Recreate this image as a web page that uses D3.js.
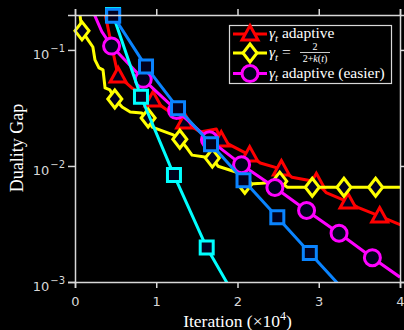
<!DOCTYPE html>
<html>
<head>
<meta charset="utf-8">
<script src="https://cdn.jsdelivr.net/npm/d3@7"></script>
<style>
  html, body { margin: 0; padding: 0; background: #000; }
  svg { display: block; }
</style>
</head>
<body>
<svg id="chart"></svg>
<script>
// ticks
const xTicks = [0, 1, 2, 3, 4];
const yTicks = [1e-3, 1e-2, 1e-1];
const yExps = ["\u22123", "\u22122", "\u22121"];

// gamma_t adaptive (red, triangles)
const redIter = [0.36, 0.53, 0.70, 0.96, 1.17, 1.35, 1.54, 1.74, 1.80, 1.93, 2.15, 2.28, 2.54, 2.67, 2.97, 3.09, 3.36, 3.48, 3.75, 4.01];
const redGap = [0.22, 0.0597, 0.047, 0.037, 0.029, 0.0239, 0.0196, 0.0208, 0.0167, 0.0149, 0.0124, 0.0106, 0.0094, 0.0080, 0.0073, 0.0059, 0.0049, 0.0044, 0.0037, 0.0031];
const redMarks = [1, 3, 5, 8, 10, 12, 14, 16, 18];

// gamma_t = 2/(2+k(t)) (yellow, diamonds)
const yellowIter = [0.05, 0.086, 0.16, 0.22, 0.246, 0.295, 0.345, 0.37, 0.43, 0.49, 0.58, 0.68, 0.82, 0.90, 0.95, 1.21, 1.29, 1.38, 1.44, 1.62, 1.69, 1.76, 1.99, 2.09, 2.30, 2.52, 2.61, 2.92, 3.31, 3.70, 4.01];
const yellowGap = [0.231, 0.146, 0.122, 0.106, 0.082, 0.070, 0.0672, 0.047, 0.0452, 0.0378, 0.0322, 0.0292, 0.0286, 0.0259, 0.0216, 0.0185, 0.0170, 0.0142, 0.0124, 0.0119, 0.0117, 0.00995, 0.00883, 0.00696, 0.0071, 0.0074, 0.00656, 0.00656, 0.00656, 0.00656, 0.00656];
const yellowMarks = [1, 9, 13, 16, 20, 23, 25, 27, 28, 29];

// gamma_t adaptive (easier) (magenta, circles)
const magIter = [0.185, 0.33, 0.45, 0.84, 1.25, 1.655, 2.05, 2.46, 2.85, 3.25, 3.66, 4.0];
const magGap = [0.245, 0.144, 0.108, 0.0558, 0.0301, 0.0168, 0.01026, 0.00652, 0.00413, 0.00263, 0.00162, 0.0011];
const magMarks = [2, 3, 4, 5, 6, 7, 8, 9, 10];

// unlabelled runs (cyan and blue, squares)
const cyanIter = [0.468, 0.812, 1.218, 1.621, 2.03];
const cyanGap = [0.2, 0.0395, 0.00834, 0.00198, 0.00063];
const cyanMarks = [0, 1, 2, 3];

const blueIter = [0.47, 0.874, 1.268, 1.674, 2.074, 2.49, 2.89, 3.29];
const blueGap = [0.197, 0.0718, 0.0314, 0.0154, 0.00754, 0.00361, 0.00178, 0.00088];
const blueMarks = [0, 1, 2, 3, 4, 5, 6];

const legendLabels = ["adaptive", "frac", "adaptive (easier)"];

const width = 404, height = 330;
const m = { left: 75, right: 400, top: 15, bottom: 282 };
const axisColor = "#d8d8d8";
const markFill = "#00001e";
const serif = "'Liberation Serif', 'Times New Roman', serif";
const sans = "'DejaVu Sans', sans-serif";

const svg = d3.select("#chart").attr("width", width).attr("height", height);
svg.append("rect").attr("width", width).attr("height", height).attr("fill", "#000");

const x = d3.scaleLinear().domain([0, 4]).range([m.left, m.right]);
const y = d3.scaleLog().domain([1e-3, 0.2]).range([m.bottom, m.top]);

svg.append("defs").append("clipPath").attr("id", "plot")
  .append("rect").attr("x", m.left).attr("y", m.top)
  .attr("width", m.right - m.left).attr("height", m.bottom - m.top);

// marker shapes
const shapes = {
  triangle: "M0,-8.5L8,6L-8,6Z",
  diamond: "M0,-9L7,0L0,9L-7,0Z",
  square: "M-6.5,-6.5H6.5V6.5H-6.5Z",
  circle: d3.arc()({ innerRadius: 0, outerRadius: 8, startAngle: 0, endAngle: 2 * Math.PI })
};

const series = [
  { iter: redIter, gap: redGap, marks: redMarks, color: "#ff0000", shape: "triangle" },
  { iter: yellowIter, gap: yellowGap, marks: yellowMarks, color: "#ffff00", shape: "diamond" },
  { iter: magIter, gap: magGap, marks: magMarks, color: "#ff00ff", shape: "circle" },
  { iter: cyanIter, gap: cyanGap, marks: cyanMarks, color: "#00ffff", shape: "square" },
  { iter: blueIter, gap: blueGap, marks: blueMarks, color: "#0a84ff", shape: "square" }
];

const line = d3.line().x(d => x(d[0])).y(d => y(d[1]));

series.forEach(s => {
  const pts = s.iter.map((v, i) => [v, s.gap[i]]);
  svg.append("path")
    .attr("clip-path", "url(#plot)")
    .attr("d", line(pts))
    .attr("fill", "none")
    .attr("stroke", s.color)
    .attr("stroke-width", 3)
    .attr("stroke-linejoin", "round");

  svg.append("g").selectAll("path")
    .data(s.marks.map(i => pts[i]))
    .enter()
    .append("path")
    .attr("transform", d => `translate(${x(d[0])},${y(d[1])})`)
    .attr("d", shapes[s.shape])
    .attr("fill", markFill)
    .attr("stroke", s.color)
    .attr("stroke-width", 3);
});

// axes box
const xAxisB = d3.axisBottom(x).tickValues(xTicks).tickSize(6).tickFormat(d3.format("d"));
const xAxisT = d3.axisTop(x).tickValues(xTicks).tickSize(6).tickFormat("");
const yAxisL = d3.axisLeft(y).tickValues(yTicks).tickSize(7).tickFormat("");
const yAxisR = d3.axisRight(y).tickValues(yTicks).tickSize(5).tickFormat("");

const gB = svg.append("g").attr("transform", `translate(0,${m.bottom})`).call(xAxisB);
svg.append("g").attr("transform", `translate(0,${m.top})`).call(xAxisT);
const gL = svg.append("g").attr("transform", `translate(${m.left},0)`).call(yAxisL);
svg.append("g").attr("transform", `translate(${m.right},0)`).call(yAxisR);

svg.selectAll(".domain").attr("stroke", axisColor).attr("stroke-width", 1.5);
svg.selectAll(".tick line").attr("stroke", axisColor).attr("stroke-width", 1.5);

gB.selectAll(".tick text")
  .attr("fill", axisColor)
  .attr("font-family", sans)
  .attr("font-size", 13)
  .attr("y", 15);

// y tick labels as 10^k
gL.selectAll(".tick").each(function (d, i) {
  const t = d3.select(this).append("text")
    .attr("x", -10)
    .attr("y", 8.5)
    .attr("text-anchor", "end")
    .attr("fill", axisColor)
    .attr("font-family", sans)
    .attr("font-size", 13);
  t.append("tspan").text("10");
  t.append("tspan").attr("dy", -7).attr("font-size", 10).attr("dx", 1).text(yExps[i]);
});

// axis titles
const xl = svg.append("text")
  .attr("x", (m.left + m.right) / 2)
  .attr("y", 327)
  .attr("text-anchor", "middle")
  .attr("fill", "#fff")
  .attr("font-family", serif)
  .attr("font-size", 17.5);
xl.append("tspan").text("Iteration (\u00d710");
xl.append("tspan").attr("dy", -7).attr("font-size", 12).text("4");
xl.append("tspan").attr("dy", 7).text(")");

svg.append("text")
  .attr("transform", `translate(22.5,148) rotate(-90)`)
  .attr("text-anchor", "middle")
  .attr("fill", "#fff")
  .attr("font-family", serif)
  .attr("font-size", 18)
  .text("Duality Gap");

// legend
const lg = svg.append("g");
lg.append("rect")
  .attr("x", 229.5).attr("y", 25.5)
  .attr("width", 162).attr("height", 58)
  .attr("fill", "#000")
  .attr("stroke", axisColor)
  .attr("stroke-width", 1.2);

const rowsY = [34, 53, 73.5];
series.slice(0, 3).forEach((s, i) => {
  const row = lg.append("g").attr("transform", `translate(0,${rowsY[i]})`);
  row.append("line")
    .attr("x1", 233).attr("x2", 267)
    .attr("stroke", s.color).attr("stroke-width", 3);
  row.append("path")
    .attr("transform", "translate(250,0)")
    .attr("d", shapes[s.shape])
    .attr("fill", markFill)
    .attr("stroke", s.color)
    .attr("stroke-width", 3);

  const t = row.append("text")
    .attr("x", 269)
    .attr("y", 4)
    .attr("fill", "#fff")
    .attr("font-family", serif)
    .attr("font-size", 15.5);
  t.append("tspan").attr("font-style", "italic").text("\u03b3");
  t.append("tspan").attr("font-style", "italic").attr("font-size", 10.5).attr("dy", 3.5).text("t");
  if (legendLabels[i] === "frac") {
    t.append("tspan").attr("dy", -3.5).text(" =");
    row.append("text").attr("x", 315).attr("y", -3.5)
      .attr("text-anchor", "middle").attr("fill", "#fff")
      .attr("font-family", serif).attr("font-size", 10).text("2");
    row.append("line").attr("x1", 300).attr("x2", 330)
      .attr("y1", -0.5).attr("y2", -0.5)
      .attr("stroke", "#fff").attr("stroke-width", 0.8);
    const den = row.append("text").attr("x", 315).attr("y", 8.5)
      .attr("text-anchor", "middle").attr("fill", "#fff")
      .attr("font-family", serif).attr("font-size", 10);
    den.append("tspan").text("2+");
    den.append("tspan").attr("font-style", "italic").text("k");
    den.append("tspan").text("(");
    den.append("tspan").attr("font-style", "italic").text("t");
    den.append("tspan").text(")");
  } else {
    t.append("tspan").attr("dy", -3.5).text(" " + legendLabels[i]);
  }
});
</script>
</body>
</html>
